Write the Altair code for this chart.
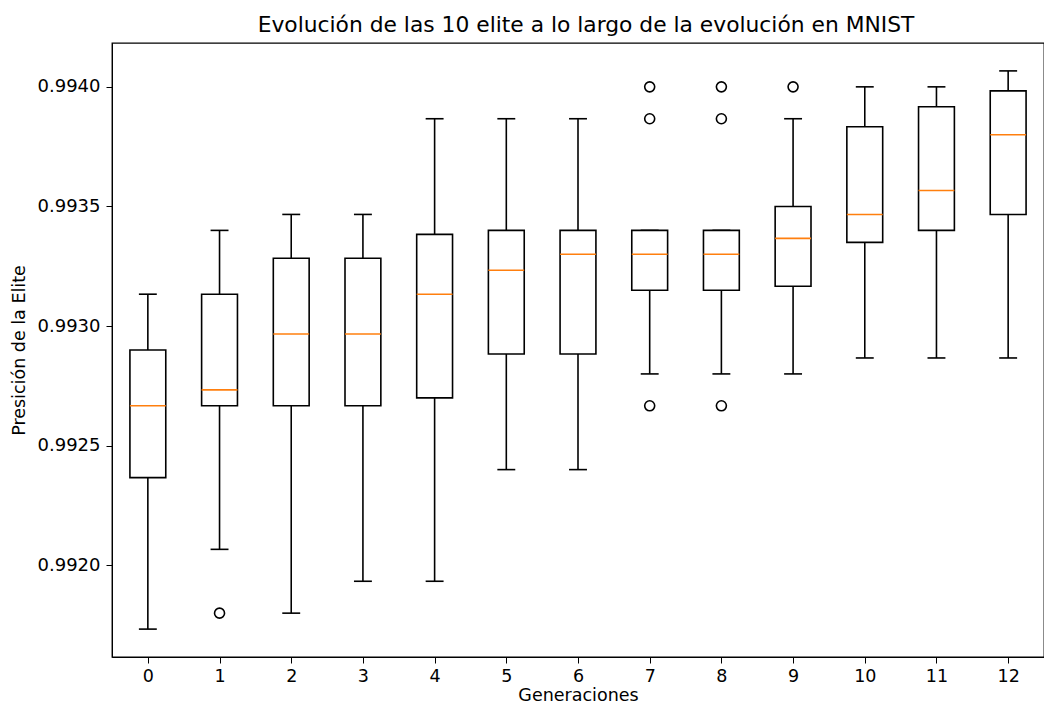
import altair as alt
import pandas as pd

generations = list(range(13))
q1 = [0.9923667, 0.9926667, 0.9926667, 0.9926667, 0.9927000, 0.9928833, 0.9928833,
      0.9931500, 0.9931500, 0.9931667, 0.9933500, 0.9934000, 0.9934667]
median = [0.9926667, 0.9927333, 0.9929667, 0.9929667, 0.9931333, 0.9932333, 0.9933000,
          0.9933000, 0.9933000, 0.9933667, 0.9934667, 0.9935667, 0.9938000]
q3 = [0.9929000, 0.9931333, 0.9932833, 0.9932833, 0.9933833, 0.9934000, 0.9934000,
      0.9934000, 0.9934000, 0.9935000, 0.9938333, 0.9939167, 0.9939833]
whisker_low = [0.9917333, 0.9920667, 0.9918000, 0.9919333, 0.9919333, 0.9924000, 0.9924000,
               0.9928000, 0.9928000, 0.9928000, 0.9928667, 0.9928667, 0.9928667]
whisker_high = [0.9931333, 0.9934000, 0.9934667, 0.9934667, 0.9938667, 0.9938667, 0.9938667,
                0.9934000, 0.9934000, 0.9938667, 0.9940000, 0.9940000, 0.9940667]
outlier_gen = [1, 7, 7, 7, 8, 8, 8, 9]
outlier_val = [0.9918000, 0.9940000, 0.9938667, 0.9926667,
               0.9940000, 0.9938667, 0.9926667, 0.9940000]

y_ticks = [0.9920, 0.9925, 0.9930, 0.9935, 0.9940]

stats = pd.DataFrame({"gen": generations, "q1": q1, "median": median, "q3": q3,
                      "lo": whisker_low, "hi": whisker_high})
outliers = pd.DataFrame({"gen": outlier_gen, "val": outlier_val})

FONT = "DejaVu Sans"
LW = 1.6

x_scale = alt.Scale(domain=[-0.5, 12.5], nice=False, zero=False)
y_scale = alt.Scale(domain=[0.9916167, 0.9941833], nice=False, zero=False)

x_axis = alt.Axis(values=generations, format="d", title="Generaciones", grid=False,
                  tickSize=6, labelPadding=4, labelFontSize=17.5, titleFontSize=17.5,
                  titlePadding=2, labelFont=FONT, titleFont=FONT,
                  titleFontWeight="normal", domainColor="black", tickColor="black",
                  labelColor="black", titleColor="black", labelAngle=0)
y_axis = alt.Axis(values=y_ticks, format=".4f", title="Presición de la Elite", grid=False,
                  tickSize=6, labelPadding=6, labelFontSize=18, titleFontSize=17.5,
                  titlePadding=9, labelFont=FONT, titleFont=FONT,
                  titleFontWeight="normal", domainColor="black", tickColor="black",
                  labelColor="black", titleColor="black")

base = alt.Chart(stats).transform_calculate(
    xl="datum.gen - 0.25", xr="datum.gen + 0.25",
    cl="datum.gen - 0.125", cr="datum.gen + 0.125")

boxes = base.mark_rect(fill="white", stroke="black", strokeWidth=LW).encode(
    x=alt.X("xl:Q", scale=x_scale, axis=x_axis),
    x2="xr:Q",
    y=alt.Y("q1:Q", scale=y_scale, axis=y_axis),
    y2="q3:Q")

whisk_up = base.mark_rule(color="black", strokeWidth=LW).encode(
    x=alt.X("gen:Q", scale=x_scale), y=alt.Y("q3:Q", scale=y_scale), y2="hi:Q")
whisk_dn = base.mark_rule(color="black", strokeWidth=LW).encode(
    x=alt.X("gen:Q", scale=x_scale), y=alt.Y("lo:Q", scale=y_scale), y2="q1:Q")
cap_hi = base.mark_rule(color="black", strokeWidth=LW).encode(
    x=alt.X("cl:Q", scale=x_scale), x2="cr:Q", y=alt.Y("hi:Q", scale=y_scale))
cap_lo = base.mark_rule(color="black", strokeWidth=LW).encode(
    x=alt.X("cl:Q", scale=x_scale), x2="cr:Q", y=alt.Y("lo:Q", scale=y_scale))
med = base.mark_rule(color="#ff7f0e", strokeWidth=LW).encode(
    x=alt.X("xl:Q", scale=x_scale), x2="xr:Q", y=alt.Y("median:Q", scale=y_scale))

pts = alt.Chart(outliers).mark_point(shape="circle", filled=False, color="black",
                                     strokeWidth=LW, size=100, opacity=1).encode(
    x=alt.X("gen:Q", scale=x_scale), y=alt.Y("val:Q", scale=y_scale))

chart = alt.layer(whisk_up, whisk_dn, cap_hi, cap_lo, boxes, med, pts).properties(
    width=932, height=614,
    title=alt.TitleParams("Evolución de las 10 elite a lo largo de la evolución en MNIST",
                          font=FONT, fontSize=21.8, fontWeight="normal", color="black",
                          anchor="middle", offset=6, dx=8),
    autosize=alt.AutoSizeParams(type="none"),
    padding={"left": 104, "top": 35, "right": 0, "bottom": 49},
).configure_view(stroke="black", strokeWidth=1.3)

chart.save("out.html", embed_options={"renderer": "svg", "actions": False})
